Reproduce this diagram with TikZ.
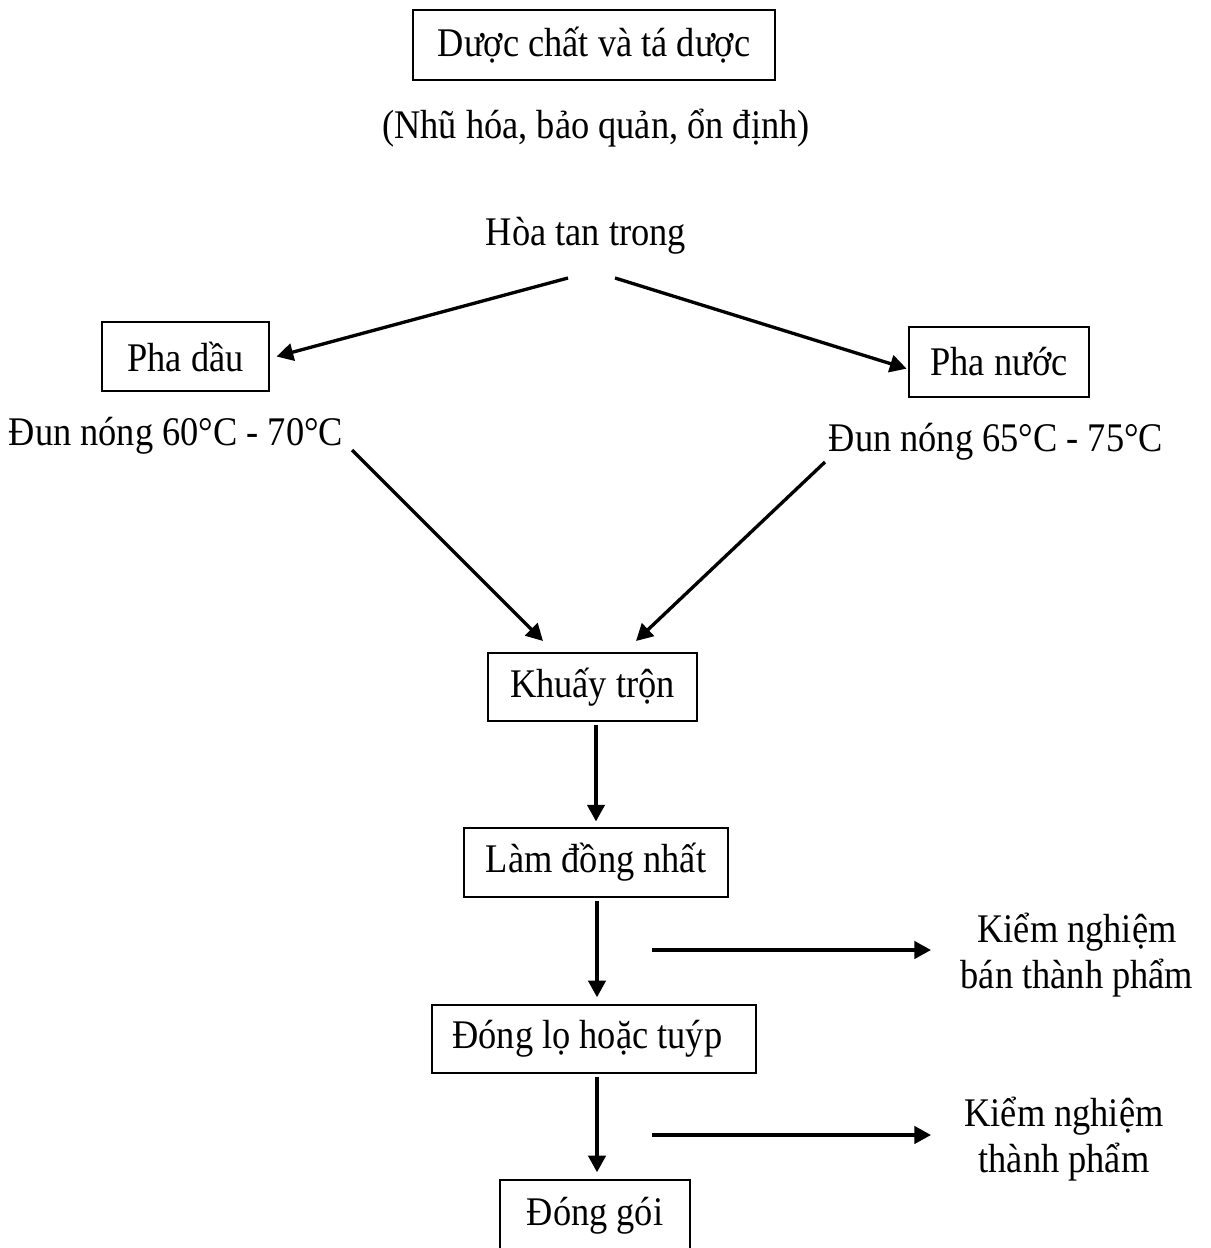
\documentclass[tikz,border=0pt]{standalone}
\usepackage{fontspec}
\setmainfont[FakeStretch=0.895]{Liberation Serif}
\usetikzlibrary{arrows.meta}
\begin{document}
\begin{tikzpicture}[x=0.75pt,y=-0.75pt,
  txt/.style={font=\fontsize{30.5}{35}\selectfont, inner sep=0pt, align=center},
  box/.style={txt, draw, line width=1.6pt},
  arr/.style={line width=2.5pt, -{Triangle[length=12.5pt,width=13pt]}}]
\useasboundingbox (0,0) rectangle (1210,1248);
\fill[white] (0,0) rectangle (1210,1248);
\clip (0,0) rectangle (1210,1248);

% nodes
\node[box, minimum width=271.5pt, minimum height=52.5pt] (dc) at (594,45) {Dược chất và tá dược};
\node[txt] (nh) at (596,128) {(Nhũ hóa, bảo quản, ổn định)};
\node[txt] (ht) at (586,236) {Hòa tan trong};
\node[box, minimum width=125pt, minimum height=52pt] (pd) at (185.5,356.5) {Pha dầu};
\node[box, minimum width=135pt, minimum height=52.5pt] (pn) at (999,362) {Pha nước};
\node[txt] (dn1) at (176,436) {Đun nóng 60°C - 70°C};
\node[txt] (dn2) at (996,442) {Đun nóng 65°C - 75°C};
\node[box, minimum width=157pt, minimum height=51pt] (kt) at (592.5,687) {Khuấy trộn};
\node[box, minimum width=198pt, minimum height=52pt] (ld) at (596,862.5) {Làm đồng nhất};
\node[box, minimum width=243pt, minimum height=51pt] (dl) at (594,1039) {Đóng lọ hoặc tuýp\hspace{10pt}};
\node[box, minimum width=142.5pt, minimum height=54pt] (dg) at (595,1216) {Đóng gói};
\node[txt] (kn1) at (1077,955) {Kiểm nghiệm\\bán thành phẩm};
\node[txt] (kn2) at (1064,1139) {Kiểm nghiệm\\thành phẩm};

% free ends
\coordinate (a1s) at (568,278);
\coordinate (a2s) at (615,278);
\coordinate (b1s) at (352,450);
\coordinate (b1e) at (543,641);
\coordinate (b2s) at (825,462);
\coordinate (b2e) at (636,641);
\coordinate (h1s) at (652,950);
\coordinate (h1e) at (931,950);
\coordinate (h2s) at (652,1135);
\coordinate (h2e) at (931,1135);

% connectors
\draw[arr] (a1s) -- ([xshift=5pt]pd.east);
\draw[arr] (a2s) -- ([xshift=-1pt,yshift=-5pt]pn.west);
\draw[arr] (b1s) -- (b1e);
\draw[arr] (b2s) -- (b2e);
\draw[arr, shorten <=2pt, shorten >=4pt] (kt.south -| 596,0) -- (ld.north -| 596,0);
\draw[arr, shorten <=2pt, shorten >=5pt] (ld.south -| 597,0) -- (dl.north -| 597,0);
\draw[arr, shorten <=2pt, shorten >=5pt] (dl.south -| 597,0) -- (dg.north -| 597,0);
\draw[arr] (h1s) -- (h1e);
\draw[arr] (h2s) -- (h2e);
\end{tikzpicture}
\end{document}
